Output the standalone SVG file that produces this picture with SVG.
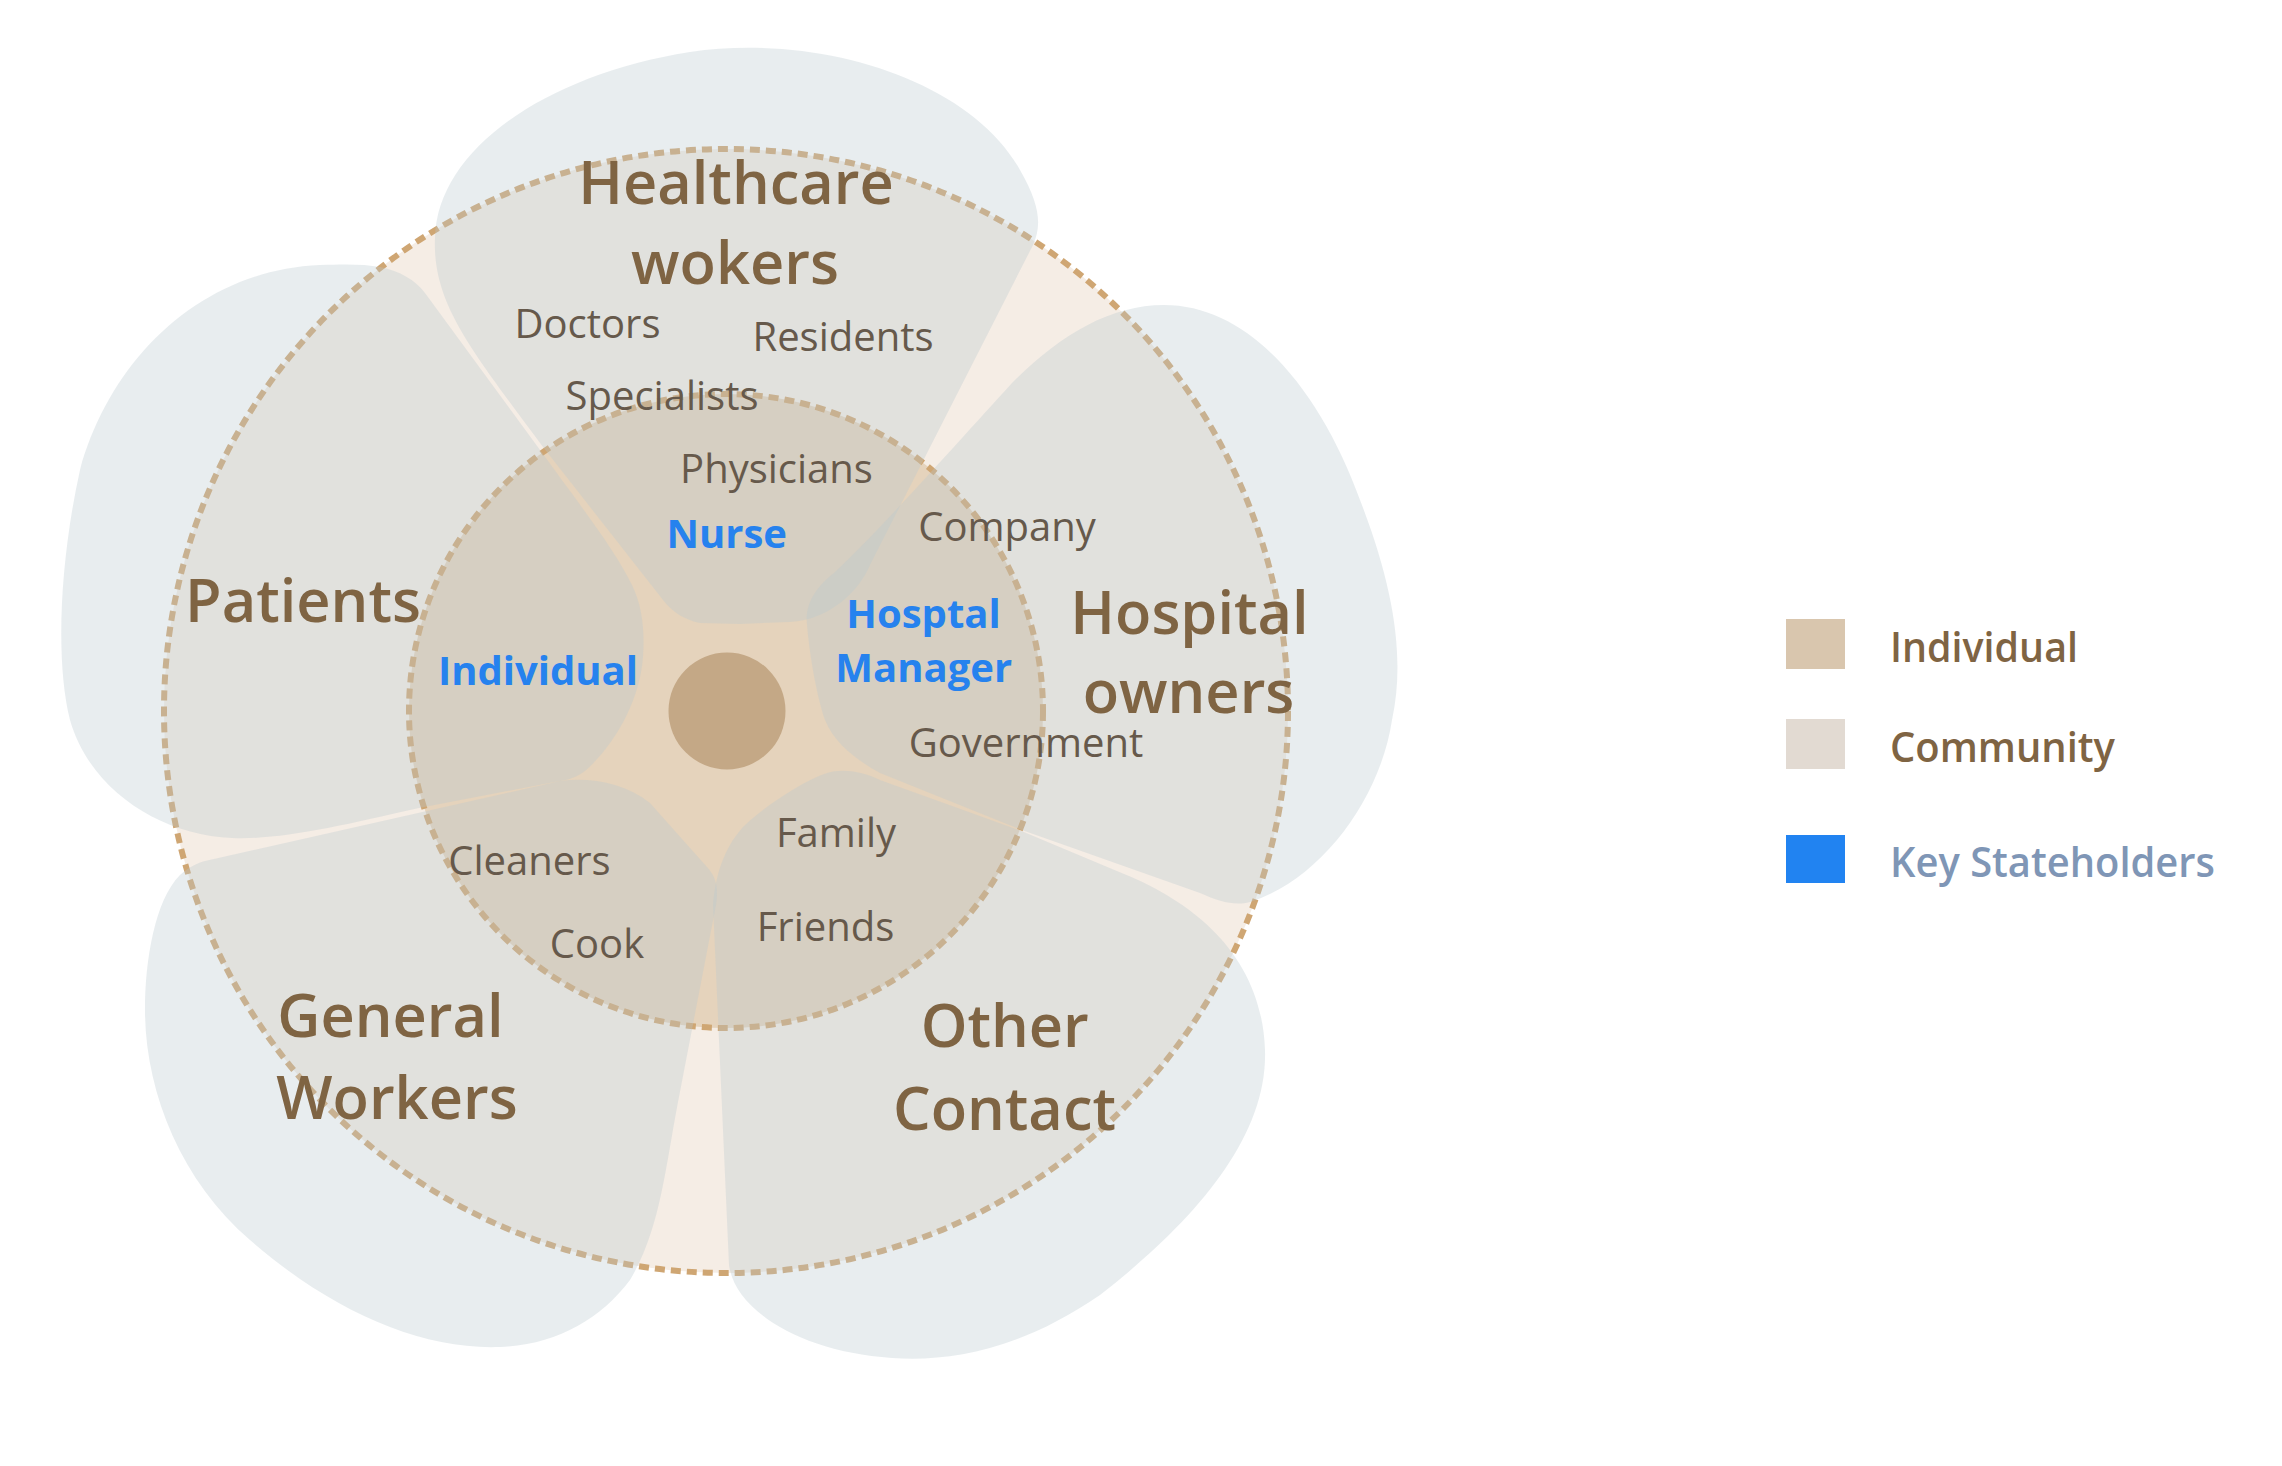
<svg xmlns="http://www.w3.org/2000/svg" width="2282" height="1466" viewBox="0 0 2282 1466">
<style>
.ring{stroke:#cfa673;stroke-width:6;stroke-dasharray:10 6}
.petal{fill:#b9c8ce;fill-opacity:0.33}
.big{font-family:"Open Sans","Noto Sans","Liberation Sans",sans-serif;font-weight:600;font-size:59.5px;fill:#7f6443;text-anchor:middle}
.small{font-family:"Open Sans","Noto Sans","Liberation Sans",sans-serif;font-weight:400;font-size:40px;fill:#66594b;text-anchor:middle}
.key{font-family:"Open Sans","Noto Sans","Liberation Sans",sans-serif;font-weight:700;font-size:40px;fill:#2682ee;text-anchor:middle}
.leg{font-family:"Open Sans","Noto Sans","Liberation Sans",sans-serif;font-weight:600;font-size:41px}
</style>
<rect width="2282" height="1466" fill="#ffffff"/>
<g id="community-ring">
<circle cx="726" cy="711" r="562" fill="#f5ede5" class="ring"/>
</g>
<g id="individual-ring">
<circle cx="726" cy="711" r="317" fill="#e5d3bc" class="ring"/>
</g>
<g id="core">
<circle cx="727" cy="711" r="58.5" fill="#c4a886"/>
</g>
<g id="healthcare-workers">
<path class="petal" d="M740,624 L700,623 C685,620 672,612 663,600 L543,447 C505,395 465,345 448,305 C438,282 434,260 435,238 C437,150 545,75 690,52 C820,33 970,80 1020,170 C1040,205 1042,225 1033,245 L870,565 C860,590 830,620 790,622 Z"/>
<text class="big" x="736" y="204">Healthcare</text>
<text class="big" x="735" y="284">wokers</text>
<text class="small" x="587.5" y="338">Doctors</text>
<text class="small" x="843" y="351">Residents</text>
<text class="small" x="662" y="409.5">Specialists</text>
<text class="small" x="776.5" y="483">Physicians</text>
<text class="key" x="726.7" y="548">Nurse</text>
</g>
<g id="hospital-owners">
<path class="petal" d="M807,625 C805,608 812,590 834,573 C880,530 960,440 1012,383 C1060,335 1110,305 1164,305 C1250,305 1320,390 1360,500 C1395,590 1405,660 1392,720 C1380,800 1320,880 1250,902 C1235,906 1220,902 1200,893 L1019,829 L880,773 C860,762 835,745 825,720 C818,700 810,660 807,625 Z"/>
<text class="big" x="1189.5" y="633.6">Hospital</text>
<text class="big" x="1188.5" y="713">owners</text>
<text class="small" x="1007" y="541">Company</text>
<text class="small" x="1026" y="757">Government</text>
<text class="key" x="923.5" y="628.3">Hosptal</text>
<text class="key" x="923.7" y="681.7">Manager</text>
</g>
<g id="other-contact">
<path class="petal" d="M713,905 C715,880 722,850 743,827 C760,810 800,782 827,773 C840,769 860,770 880,780 L1019,830 L1124,874 C1200,905 1262,960 1265,1050 C1268,1140 1190,1225 1100,1295 C1020,1350 950,1362 892,1358 C800,1352 735,1310 729,1265 Z"/>
<text class="big" x="1004.7" y="1047">Other</text>
<text class="big" x="1004.5" y="1129.5">Contact</text>
<text class="small" x="836" y="847">Family</text>
<text class="small" x="825.5" y="941">Friends</text>
</g>
<g id="general-workers">
<path class="petal" d="M205,861 L560,781 C590,777 625,783 650,803 L707,867 C715,876 719,885 716,905 L678,1102 C665,1170 660,1230 630,1280 C600,1320 555,1345 500,1347 C420,1350 330,1310 250,1240 C180,1180 145,1090 145,1010 C145,960 155,900 180,875 C190,866 198,863 205,861 Z"/>
<text class="big" x="390.4" y="1037">General</text>
<text class="big" x="397" y="1118.7">Workers</text>
<text class="small" x="529.4" y="875">Cleaners</text>
<text class="small" x="597" y="957.6">Cook</text>
</g>
<g id="patients">
<path class="petal" d="M380,267 C400,271 415,280 425,293 L540,450 C580,505 615,550 632,585 C642,605 645,630 643,657 C640,700 615,745 585,771 C575,778 568,780 560,781 L419,808 C340,826 280,840 232,838 C160,835 90,790 70,720 C55,660 60,560 80,470 C110,360 200,270 320,265 C345,264 365,264 380,267 Z"/>
<text class="big" x="303" y="621.5">Patients</text>
<text class="key" x="538" y="685">Individual</text>
</g>
<g id="legend">
<g id="legend-individual">
<rect x="1786" y="619" width="59" height="50" fill="#d9c6ae"/>
<text class="leg" x="1890" y="661.7" fill="#7f6443" textLength="188" lengthAdjust="spacingAndGlyphs">Individual</text>
</g>
<g id="legend-community">
<rect x="1786" y="719" width="59" height="50" fill="#e2dad2"/>
<text class="leg" x="1890" y="761.7" fill="#7f6443" textLength="225" lengthAdjust="spacingAndGlyphs">Community</text>
</g>
<g id="legend-key">
<rect x="1786" y="835" width="59" height="48" fill="#2183f1"/>
<text class="leg" x="1890" y="876.7" fill="#7f96b6" textLength="325" lengthAdjust="spacingAndGlyphs">Key Stateholders</text>
</g>
</g>
</svg>
